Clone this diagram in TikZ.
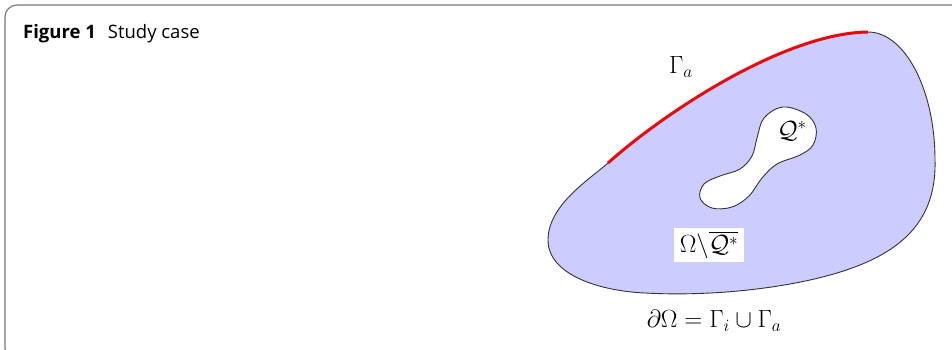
\documentclass[tikz,border=0pt]{standalone}
\usepackage{amsmath}
\usepackage{fontspec}
\newfontfamily\capfont{Open Sans}
\definecolor{regionfill}{RGB}{204,204,255}
\definecolor{framegray}{RGB}{120,120,120}
\definecolor{arcred}{RGB}{230,10,10}
\tikzset{
  frameline/.style={draw=framegray,line width=1.2pt,rounded corners=12pt},
  outline/.style={draw=black!80,line width=0.9pt},
  redarc/.style={draw=arcred,line width=3pt},
  mathlabel/.style={inner sep=1pt,font=\fontsize{23.5}{28}\selectfont},
  boxlabel/.style={fill=white,inner xsep=6pt,inner ysep=3pt,font=\fontsize{23.5}{28}\selectfont},
  captext/.style={anchor=base west,inner sep=0pt,font=\capfont\fontsize{18.5}{22}\selectfont}
}
\begin{document}
\begin{tikzpicture}[x=1pt,y=-1pt]
\useasboundingbox (0,0) rectangle (952,349);
% frame
\draw[frameline] (970,5) -- (5,5) -- (5,360) -- (970,360);
% caption
\node[captext] (cap) at (23,38) {\textbf{Figure 1}\hspace{12pt}Study case};
% outer region
\coordinate (A) at (608,163);
\coordinate (B) at (868,32);
\path[fill=regionfill,outline]
  (A) .. controls (665,112) and (785,33) .. (B)
  .. controls (905,32) and (935,90) .. (935,160)
  .. controls (937,230) and (890,262) .. (810,280)
  .. controls (760,291) and (700,296) .. (645,293)
  .. controls (600,291) and (548,275) .. (548,240)
  .. controls (548,205) and (590,179) .. (A) -- cycle;
\draw[redarc] (A) .. controls (665,112) and (785,33) .. (B);
% inner region Q*
\draw[fill=white,outline] plot[smooth cycle,tension=0.6] coordinates {
  (783,107) (806,114) (816,128) (813,145) (800,155) (777,164) (762,178)
  (749,196) (732,207) (712,208) (700,198) (704,184) (720,176) (740,169)
  (752,156) (757,138) (764,118)};
% labels
\node[mathlabel] (gammaa) at (681,67) {$\Gamma_a$};
\node[mathlabel] (qstar) at (792,131) {$\mathcal{Q}^*$};
\node[boxlabel] (omq) at (709,245) {$\Omega\backslash\overline{\mathcal{Q}^*}$};
\node[mathlabel] (bdry) at (714,321) {$\partial\Omega=\Gamma_i\cup\Gamma_a$};
\end{tikzpicture}
\end{document}
